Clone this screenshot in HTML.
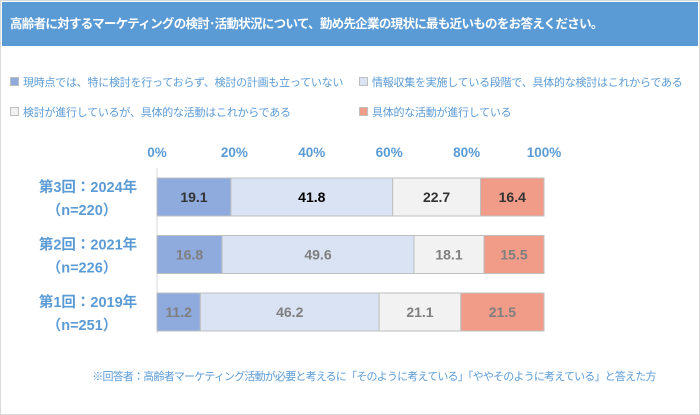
<!DOCTYPE html>
<html><head><meta charset="utf-8">
<style>
body{margin:0;width:700px;height:415px;background:#fff;font-family:"Liberation Sans","Noto Sans CJK JP",sans-serif;overflow:hidden}
#wrap{position:absolute;left:0;top:0;width:698px;height:413px;border:1px solid #d9d9d9}
#title{position:absolute;left:1px;top:1px;width:696px;height:44px;background:#5b9bd5;color:#fff;font-weight:bold;font-size:12.5px;letter-spacing:-0.7px;line-height:44px;padding-left:8px;box-sizing:border-box;white-space:nowrap}
.lg{position:absolute;font-size:11px;letter-spacing:-0.25px;color:#5b9bd5;white-space:nowrap}
.sw{display:inline-block;width:7px;height:7px;border:1px solid #bfbfbf;margin-right:4px;vertical-align:0}
#foot{position:absolute;top:367px;left:0;width:746px;text-align:center;font-size:11px;letter-spacing:-0.8px;color:#5b9bd5;white-space:nowrap}
</style></head><body>
<div id="wrap">
<div id="title">高齢者に対するマーケティングの検討･活動状況について、勤め先企業の現状に最も近いものをお答えください。</div>
<div class="lg" style="left:9px;top:73px"><span class="sw" style="background:#8faadc"></span>現時点では、特に検討を行っておらず、検討の計画も立っていない</div>
<div class="lg" style="left:358px;top:73px"><span class="sw" style="background:#dae3f3"></span>情報収集を実施している段階で、具体的な検討はこれからである</div>
<div class="lg" style="left:9px;top:103px"><span class="sw" style="background:#f2f2f2"></span>検討が進行しているが、具体的な活動はこれからである</div>
<div class="lg" style="left:358px;top:103px"><span class="sw" style="background:#f19c89"></span>具体的な活動が進行している</div>
<svg id="chart" width="700" height="415" style="position:absolute;left:-1px;top:-1px"></svg>
<div id="foot">※回答者：高齢者マーケティング活動が必要と考えるに「そのように考えている」「ややそのように考えている」と答えた方</div>
</div>
<script>
const categories=["第3回：2024年","第2回：2021年","第1回：2019年"];
const samples=["（n=220）","（n=226）","（n=251）"];
const s1=[19.1,16.8,11.2];
const s2=[41.8,49.6,46.2];
const s3=[22.7,18.1,21.1];
const s4=[16.4,15.5,21.5];
const ticks=[0,20,40,60,80,100];
const series=[s1,s2,s3,s4];
const colors=["#8faadc","#dae3f3","#f2f2f2","#f19c89"];
const NS="http://www.w3.org/2000/svg";
const svg=document.getElementById('chart');
const x0=157,x1=544;
const xs=v=>x0+(x1-x0)*v/100;
const rowTop=i=>178+i*57.5, bh=38;
function mk(t,a){const e=document.createElementNS(NS,t);for(const k in a)e.setAttribute(k,a[k]);svg.appendChild(e);return e;}
ticks.forEach(t=>{
 const e=mk('text',{x:xs(t),y:157,'text-anchor':'middle','font-size':13.5,'font-weight':'bold',fill:'#5b9bd5'});
 
 
 e.textContent=t+'%';
});
const ax=mk('line',{x1:x0,x2:x0,y1:168,y2:333,stroke:'#d9d9d9','stroke-width':1});


categories.forEach((c,i)=>{
 const y=rowTop(i);
 const l1=mk('text',{x:88,y:y+14,'text-anchor':'middle','font-size':14.5,'font-weight':'bold',fill:'#5b9bd5'});
 
 
 l1.textContent=c;
 const l2=mk('text',{x:82,y:y+37,'text-anchor':'middle','font-size':14.5,'font-weight':'bold',fill:'#5b9bd5'});
 
 
 l2.textContent=samples[i];
 let acc=0;
 series.forEach((s,j)=>{
  const v=s[i];
  const r=mk('rect',{x:xs(acc),y:y,width:xs(acc+v)-xs(acc),height:bh,fill:colors[j],stroke:'#bfbfbf','stroke-width':1});
  
  
  const fill=i===0?(j===1?'#000':'#333'):'#7f7f7f';
  const t=mk('text',{x:(xs(acc)+xs(acc+v))/2,y:y+bh/2+5,'text-anchor':'middle','font-size':14,'font-weight':'bold',fill:fill});
  
  
  t.textContent=v.toFixed(1);
  acc+=v;
 });
});
</script>
</body></html>
